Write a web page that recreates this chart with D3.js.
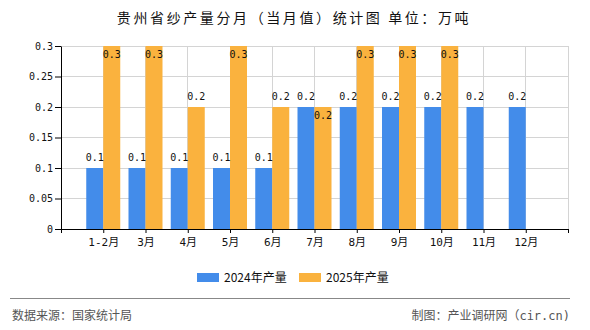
<!DOCTYPE html>
<html><head><meta charset="utf-8">
<script src="https://cdn.jsdelivr.net/npm/d3@7"></script>
<style>
body{margin:0;background:#fff;}
svg{display:block;}
</style></head>
<body>
<svg id="c" width="590" height="330"></svg>
<script>
const titleText = "贵州省纱产量分月（当月值）统计图 单位：万吨";
const categories = ["1-2月","3月","4月","5月","6月","7月","8月","9月","10月","11月","12月"];
const series2024 = [0.1,0.1,0.1,0.1,0.1,0.2,0.2,0.2,0.2,0.2,0.2];
const series2025 = [0.3,0.3,0.2,0.3,0.2,0.2,0.3,0.3,0.3,null,null];
const seriesNames = ["2024年产量","2025年产量"];
const seriesColors = ["#438cea","#fab23e"];
const yTicks = [0,0.05,0.1,0.15,0.2,0.25,0.3];
const yTickLabels = ["0","0.05","0.1","0.15","0.2","0.25","0.3"];
const sourceText = "数据来源：国家统计局";
const creditText = "制图：产业调研网（cir.cn)";

const svg = d3.select("#c");
const L = 61, R = 568, T = 46, B = 229;
const x = d3.scaleLinear().domain([0, categories.length + 1]).range([L, R]);
const y = d3.scaleLinear().domain([0, 0.3]).range([B, T]);
const barW = 17;
const mono = "'DejaVu Sans Mono','Liberation Mono',monospace";
const cjk = "'Noto Sans CJK SC','Noto Sans',sans-serif";

// title
svg.append("text").attr("x", 294).attr("y", 23).attr("text-anchor","middle")
  .style("font-family", cjk).style("font-size","14px").style("letter-spacing","2.6px")
  .attr("fill","#111").text(titleText);

// grid
const g = svg.append("g");
g.selectAll("line.h").data(yTicks).join("line").attr("class","h")
  .attr("x1", L).attr("x2", R).attr("y1", d=>y(d)).attr("y2", d=>y(d))
  .attr("stroke","#d4d4d4").attr("stroke-width",1).attr("shape-rendering","crispEdges");
g.selectAll("line.v").data(d3.range(1, categories.length + 2)).join("line").attr("class","v")
  .attr("x1", d=>x(d)).attr("x2", d=>x(d)).attr("y1", T).attr("y2", B)
  .attr("stroke","#d4d4d4").attr("stroke-width",1).attr("shape-rendering","crispEdges");

// bars
const all = [series2024, series2025];
all.forEach((s, si) => {
  svg.append("g").selectAll("rect").data(s.map((v,i)=>({v,i})).filter(d=>d.v!=null)).join("rect")
    .attr("x", d => si===0 ? x(d.i+1) - barW : x(d.i+1))
    .attr("y", d => y(d.v)).attr("width", barW).attr("height", d => B - y(d.v))
    .attr("fill", seriesColors[si]);
});

// labels
all.forEach((s, si) => {
  svg.append("g").selectAll("text").data(s.map((v,i)=>({v,i})).filter(d=>d.v!=null)).join("text")
    .attr("x", d => si===0 ? x(d.i+1) - barW/2 : x(d.i+1) + barW/2)
    .attr("y", d => {
      const top = y(d.v);
      const collide = si===1 && series2024[d.i] === d.v;
      if (top - 16 < T || collide) return top + 12;
      return top - 7;
    })
    .attr("text-anchor","middle").style("font-family", mono).style("font-size","10px")
    .attr("fill","#111").text(d => String(d.v));
});

// axes
const xAxis = d3.axisBottom(x).tickValues(d3.range(0, categories.length + 2))
  .tickFormat(i => categories[i-1] || "").tickSize(4).tickSizeOuter(0);
const xa = svg.append("g").attr("transform",`translate(0,${B})`).call(xAxis);
xa.select(".domain").attr("stroke","#000");
xa.selectAll(".tick line").attr("stroke","#000");
xa.selectAll(".tick text").attr("dy","0.9em").style("font-family", mono + "," + cjk)
  .style("font-size","11px").attr("fill","#111");

const yAxis = d3.axisLeft(y).tickValues(yTicks).tickFormat((d,i)=>yTickLabels[i]).tickSize(6).tickSizeOuter(0);
const ya = svg.append("g").attr("transform",`translate(${L},0)`).call(yAxis);
ya.select(".domain").attr("stroke","#000");
ya.selectAll(".tick line").attr("stroke","#000");
ya.selectAll(".tick text").attr("x", -8).style("font-family", mono).style("font-size","10px").attr("fill","#111");

// legend
const legX = [197, 299];
seriesNames.forEach((n, i) => {
  svg.append("rect").attr("x", legX[i]).attr("y", 273).attr("width", 22).attr("height", 9).attr("fill", seriesColors[i]);
  svg.append("text").attr("x", legX[i] + 27).attr("y", 281.5)
    .style("font-family", cjk).style("font-size","12px").attr("fill","#111").text(n);
});

// footer
svg.append("line").attr("x1",10).attr("x2",570).attr("y1",298.5).attr("y2",298.5).attr("stroke","#888").attr("stroke-width",1);
svg.append("text").attr("x",12).attr("y",320).style("font-family", cjk).style("font-size","12px").attr("fill","#555").text(sourceText);
svg.append("text").attr("x",570).attr("y",320).attr("text-anchor","end").style("font-family", mono + "," + cjk).style("font-size","12px").attr("fill","#555").text(creditText);
</script>
</body></html>
